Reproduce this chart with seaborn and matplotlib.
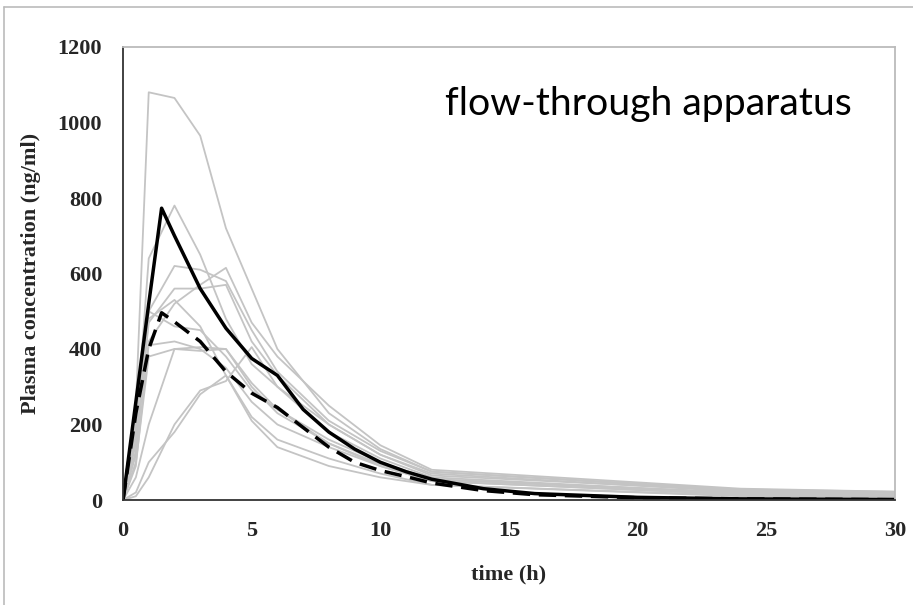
import numpy as np
import pandas as pd
import matplotlib
matplotlib.use("Agg")
import matplotlib.pyplot as plt
import seaborn as sns
from matplotlib.lines import Line2D

# ---- data ----
gray_time = [0, 0.5, 1, 2, 3, 4, 5, 6, 8, 10, 12, 24, 30]
subj_A = [0, 250, 1080, 1065, 965, 720, 560, 400, 230, 135, 75, 25, 20]
subj_B = [0, 180, 640, 780, 650, 480, 360, 300, 200, 120, 70, 22, 15]
subj_C = [0, 120, 500, 620, 610, 580, 450, 340, 210, 130, 75, 28, 22]
subj_D = [0, 90, 420, 520, 570, 615, 470, 380, 250, 145, 80, 30, 22]
subj_E = [0, 150, 470, 560, 560, 570, 420, 330, 200, 120, 65, 25, 18]
subj_F = [0, 200, 500, 460, 450, 380, 290, 240, 160, 100, 55, 20, 12]
subj_G = [0, 160, 410, 420, 400, 350, 260, 200, 140, 90, 50, 15, 10]
subj_H = [0, 100, 380, 400, 395, 400, 310, 240, 150, 95, 55, 18, 12]
subj_I = [0, 60, 200, 400, 405, 400, 300, 230, 150, 90, 50, 15, 10]
subj_J = [0, 20, 100, 180, 280, 330, 220, 160, 110, 70, 40, 12, 8]
subj_K = [0, 130, 480, 530, 460, 330, 210, 140, 90, 60, 40, 10, 6]
subj_L = [0, 10, 60, 200, 290, 315, 405, 300, 180, 110, 60, 18, 10]
subjects = [subj_A, subj_B, subj_C, subj_D, subj_E, subj_F,
            subj_G, subj_H, subj_I, subj_J, subj_K, subj_L]

mean_time = [0, 0.5, 1, 1.5, 2, 3, 4, 5, 6, 7, 8, 9, 10, 11, 12, 14, 16, 20, 24, 30]
mean_solid = [0, 260, 520, 773, 700, 560, 455, 375, 330, 240, 180, 135, 100, 75, 55, 30, 17, 7, 3, 1]
mean_dashed = [0, 230, 400, 496, 472, 420, 340, 283, 245, 192, 140, 100, 78, 62, 45, 25, 14, 6, 3, 1]

x_ticks = [0, 5, 10, 15, 20, 25, 30]
y_ticks = [0, 200, 400, 600, 800, 1000, 1200]

# ---- long-form tables ----
rows = []
for i, s in enumerate(subjects):
    for t, v in zip(gray_time, s):
        rows.append({"subject": i, "time": t, "conc": v})
df_gray = pd.DataFrame(rows)
df_solid = pd.DataFrame({"time": mean_time, "conc": mean_solid})
df_dashed = pd.DataFrame({"time": mean_time, "conc": mean_dashed})

sns.set_style("white")
fig = plt.figure(figsize=(9.13, 6.05), dpi=100)
ax = fig.add_axes([123/913, 1-500/605, (895-123)/913, (500-47)/605])

sns.lineplot(data=df_gray, x="time", y="conc", units="subject", estimator=None,
             color="#c4c4c4", linewidth=1.3, ax=ax, legend=False)
sns.lineplot(data=df_solid, x="time", y="conc", color="black", linewidth=2.5,
             ax=ax, legend=False)
sns.lineplot(data=df_dashed, x="time", y="conc", color="black", linewidth=2.5,
             ax=ax, legend=False, dashes=False)
ax.lines[-1].set_dashes([5, 2.5])

ax.set_xlim(0, 30)
ax.set_ylim(0, 1200)
ax.set_xticks(x_ticks)
ax.set_yticks(y_ticks)
serif = ["Liberation Serif", "DejaVu Serif"]
ax.set_xticklabels([str(v) for v in x_ticks], family=serif, fontweight="bold", fontsize=16)
ax.set_yticklabels([str(v) for v in y_ticks], family=serif, fontweight="bold", fontsize=16)
ax.tick_params(axis="both", direction="out", length=6, width=1.2, color="#333333", pad=9)

for side in ["left", "bottom"]:
    ax.spines[side].set_color("#333333")
    ax.spines[side].set_linewidth(1.3)
for side in ["top", "right"]:
    ax.spines[side].set_color("#bbbbbb")
    ax.spines[side].set_linewidth(1.3)

ax.set_xlabel("time (h)", family=serif, fontweight="bold", fontsize=16, labelpad=17)
ax.set_ylabel("Plasma concentration (ng/ml)", family=serif, fontweight="bold",
              fontsize=16, labelpad=12)

fig.text(445/913, 1-115/605, "flow-through apparatus", family=["Lato", "DejaVu Sans"],
         fontsize=28.3, ha="left", va="baseline", color="black")

# screenshot border
fig.add_artist(Line2D([4/913, 1], [1-7/605, 1-7/605], color="#bbbbbb", linewidth=1.2,
                      transform=fig.transFigure))
fig.add_artist(Line2D([4/913, 4/913], [0, 1-7/605], color="#bbbbbb", linewidth=1.2,
                      transform=fig.transFigure))

fig.savefig("out.png", dpi=100)
